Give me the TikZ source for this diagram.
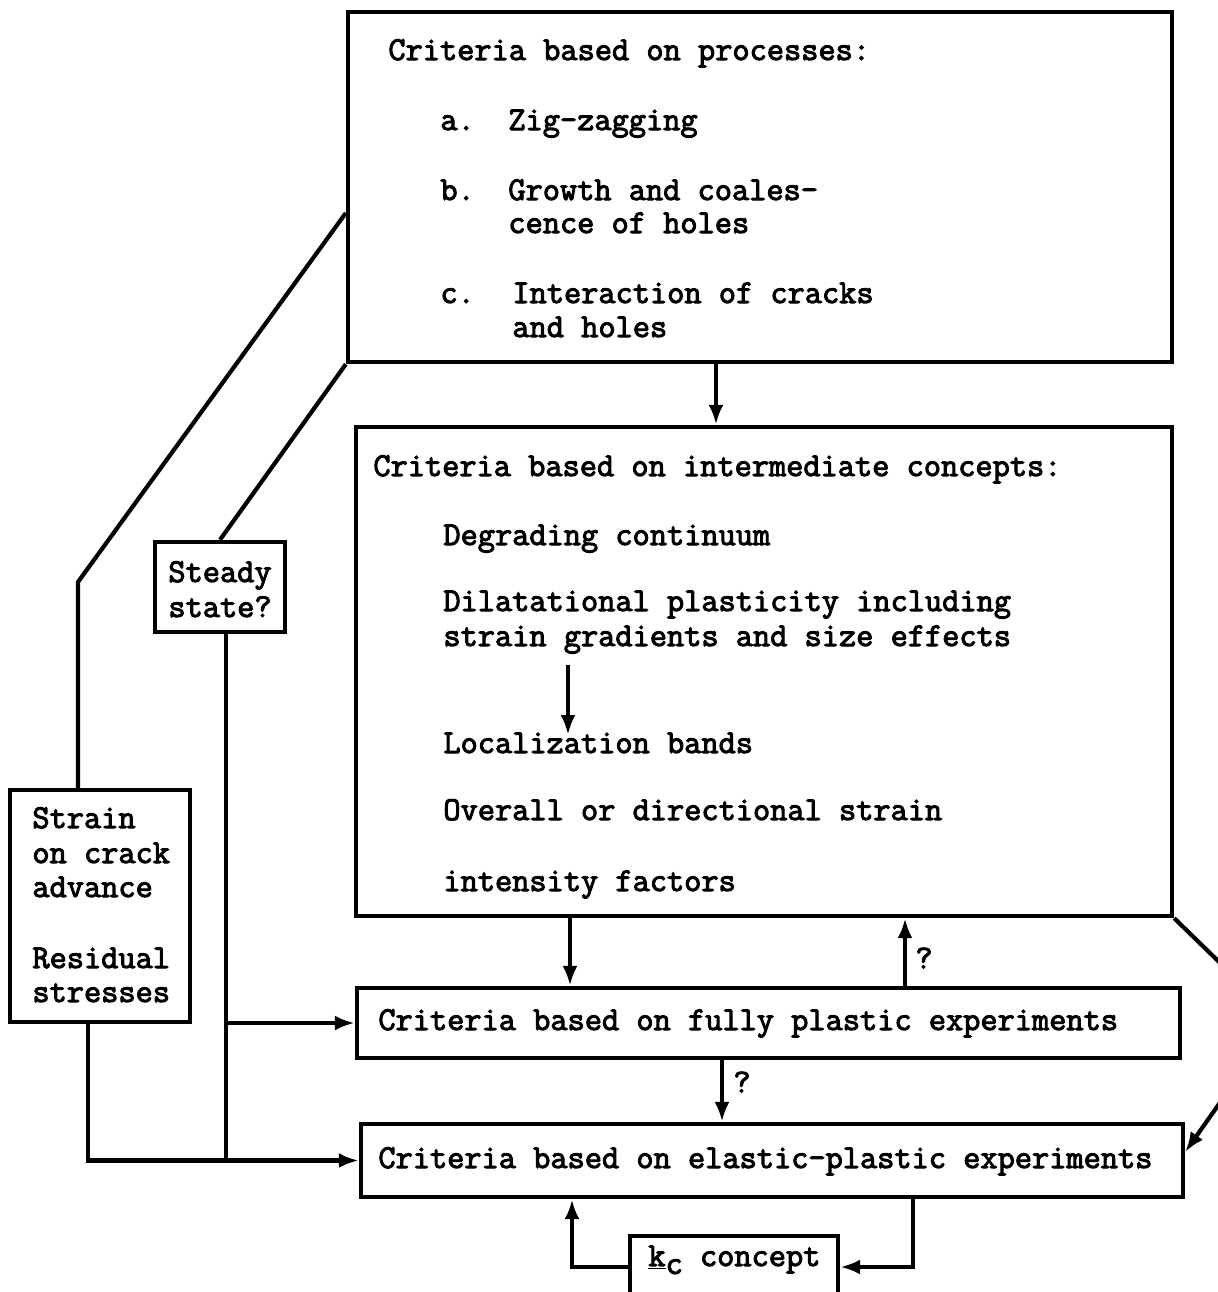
\documentclass[tikz,border=0pt]{standalone}
\usepackage{fontspec}
\newfontfamily\tw{Latin Modern Mono}[FakeBold=3]
\usetikzlibrary{arrows.meta,fit,calc}
\begin{document}
\begin{tikzpicture}[x=0.5pt,y=-0.5pt,
  box/.style={draw, line width=2.2pt, inner sep=0pt},
  ln/.style={line width=2.1pt, line join=miter},
  arr/.style={line width=2.1pt, -{Latex[length=10pt,width=7.5pt]}},
  txt/.style={anchor=base west, inner sep=0pt, font=\tw\fontsize{16.7}{17}\selectfont},
  q/.style={anchor=center, inner sep=0pt, font=\tw\fontsize{16.7}{17}\selectfont}]
\useasboundingbox (0,0) rectangle (1218,1292);
% boxes
\node[box, fit={(348,12) (1172,362)}] (P) {};
\node[box, fit={(356,427) (1172,916)}] (I) {};
\node[box, fit={(357,988) (1180,1058)}] (F) {};
\node[box, fit={(361,1124) (1183,1197)}] (E) {};
\node[box, fit={(155,542) (285,632)}] (S) {};
\node[box, fit={(10,790) (190,1022)}] (T) {};
\node[box, fit={(630,1236) (838,1298)}] (K) {};
% helper coordinates
\coordinate (x716) at (716,0);
\coordinate (x570) at (570,0);
\coordinate (x905) at (905,0);
\coordinate (x722) at (722,0);
\coordinate (x568) at (568,665);
\coordinate (x568b) at (568,735);
\coordinate (x78) at (78,0);
\coordinate (x220) at (220,0);
\coordinate (x226) at (226,0);
\coordinate (x88) at (88,0);
\coordinate (x913) at (913,0);
\coordinate (x572) at (572,0);
\coordinate (y213) at (0,213);
\coordinate (y1150) at (0,1152);
\coordinate (bendL) at (78,582);
\coordinate (offA) at (1250,992);
\coordinate (offB) at (1250,1060);
% texts: top box
\node[txt] (p0) at (388,60) {Criteria based on processes:};
\node[txt] (pa) at (440,130) {a.};
\node[txt] (pa1) at (508,130) {Zig-zagging};
\node[txt] (pb) at (440,200) {b.};
\node[txt] (pb1) at (508,200) {Growth and coales-};
\node[txt] (pb2) at (508,233) {cence of holes};
\node[txt] (pc) at (440,303) {c.};
\node[txt] (pc1) at (512,303) {Interaction of cracks};
\node[txt] (pc2) at (512,337) {and holes};
% intermediate
\node[txt] (i0) at (373,476) {Criteria based on intermediate concepts:};
\node[txt] (i1) at (443,545) {Degrading continuum};
\node[txt] (i2) at (443,611) {Dilatational plasticity including};
\node[txt] (i3) at (443,646) {strain gradients and size effects};
\node[txt] (i4) at (443,753) {Localization bands};
\node[txt] (i5) at (443,820) {Overall or directional strain};
\node[txt] (i6) at (443,891) {intensity factors};
% side boxes
\node[txt] (s1) at (168,582) {Steady};
\node[txt] (s2) at (168,617) {state?};
\node[txt] (t1) at (32,828) {Strain};
\node[txt] (t2) at (32,863) {on crack};
\node[txt] (t3) at (32,897) {advance};
\node[txt] (t4) at (32,968) {Residual};
\node[txt] (t5) at (32,1002) {stresses};
\node[txt] (f0) at (378,1030) {Criteria based on fully plastic experiments};
\node[txt] (e0) at (378,1168) {Criteria based on elastic-plastic experiments};
\node[txt] (k0) at (648,1266) {\underline{k}\raisebox{-0.55ex}{c} concept};
\node[q] (q1) at (924,958) {?};
\node[q] (q2) at (742,1082) {?};
% connectors
\draw[arr] (P.south -| x716) -- (I.north -| x716);
\draw[arr] (I.south -| x570) -- (F.north -| x570);
\draw[arr] (F.north -| x905) -- (I.south -| x905);
\draw[arr] (F.south -| x722) -- (E.north -| x722);
\draw[arr] (x568) -- (x568b);
\draw[ln] (P.west |- y213) -- (bendL) -- (T.north -| x78);
\draw[ln] (P.south west) -- (S.north -| x220);
\draw[ln] (S.south -| x226) -- (E.west -| x226);
\draw[arr] (F.west -| x226) -- (F.west);
\draw[arr] (T.south -| x88) |- (E.west);
\draw[ln] (I.south east) -- (offA);
\draw[arr] (offB) -- (E.east |- y1150);
\draw[arr] (E.south -| x913) |- (K.east);
\draw[arr] (K.west) -| (E.south -| x572);
\end{tikzpicture}
\end{document}
